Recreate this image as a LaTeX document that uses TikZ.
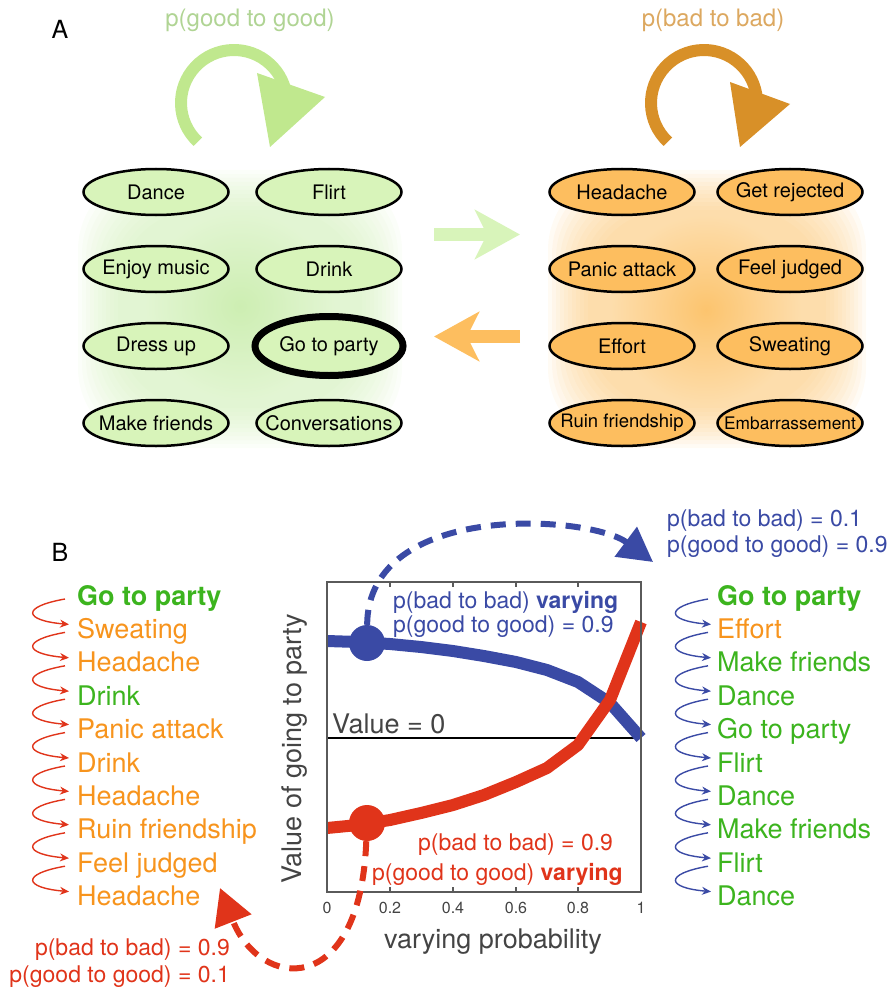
\documentclass[tikz,border=0pt]{standalone}
\usepackage{fontspec}
\setmainfont{TeX Gyre Heros}
\usetikzlibrary{arrows.meta, shapes.geometric, positioning, fadings}

\definecolor{glowgreen}{RGB}{205,238,178}
\definecolor{gloworange}{RGB}{252,196,110}
\definecolor{fillgreen}{RGB}{216,244,186}
\definecolor{fillorange}{RGB}{253,190,95}
\definecolor{loopgreen}{RGB}{192,232,142}
\definecolor{looporange}{RGB}{216,144,40}
\definecolor{labelgreen}{RGB}{176,212,148}
\definecolor{labelorange}{RGB}{220,168,96}
\definecolor{listgreen}{RGB}{60,180,30}
\definecolor{listorange}{RGB}{247,148,29}
\definecolor{redc}{RGB}{224,52,26}
\definecolor{bluec}{RGB}{58,74,165}
\definecolor{axisgray}{RGB}{90,90,90}
\definecolor{textgray}{RGB}{68,68,68}

\tikzfading[name=softspot,inner color=transparent!0,outer color=transparent!100]

\newcommand{\fsz}[1]{\fontsize{#1}{#1}\selectfont}

\begin{document}
\begin{tikzpicture}[x=1pt,y=1pt,node distance=77pt,
  state/.style={ellipse,draw,line width=2.5pt,minimum width=145pt,minimum height=46pt,inner sep=0pt,font=\fsz{20},
    execute at begin node={\hbox to 0pt\bgroup\hss},execute at end node={\hss\egroup}},
  good node/.style={state,fill=fillgreen},
  bad node/.style={state,fill=fillorange},
  glow/.style={fill opacity=0.075,rounded corners=80pt},
  item/.style={anchor=base west,inner sep=0pt,font=\fsz{27}},
  good item/.style={item,text=listgreen},
  bad item/.style={item,text=listorange},
  hop/.style={line width=1.4pt,-{Stealth[length=9pt,width=8pt]},out=190,in=175,looseness=4.5},
  prob/.style={inner sep=0pt,font=\fsz{23}}]

  \useasboundingbox (0,0) rectangle (891,-987);

  % panel A
  \node[font=\fsz{25}] (labA) at (60,-29) {A};
  \node[text=labelgreen,font=\fsz{24}] (pgg) at (250,-20) {p(good to good)};
  \node[text=labelorange,font=\fsz{24}] (pbb) at (713,-20) {p(bad to bad)};

  \draw[loopgreen,line width=12pt] (234,-103) ++(227:53) arc[start angle=227,end angle=5,radius=53];
  \fill[loopgreen] (257,-73) -- (325,-97) -- (270,-147) -- cycle;
  \draw[looporange,line width=12pt] (704,-103) ++(227:53) arc[start angle=227,end angle=5,radius=53];
  \fill[looporange] (730,-82) -- (790,-104) -- (740,-147) -- cycle;

  \foreach \d in {0,4,...,40} {
    \fill[glowgreen,glow] (78+\d,-170-\d) rectangle (402-\d,-448+\d);
    \fill[gloworange,glow] (548+\d,-170-\d) rectangle (866-\d,-448+\d);
  }
  \fill[glowgreen,path fading=softspot] (240,-306) circle (95);
  \fill[gloworange,path fading=softspot] (706,-310) circle (95);

  \node[good node] (dance) at (156,-192) {Dance};
  \node[good node] (enjoy) [below of=dance] {Enjoy music};
  \node[good node] (dress) [below of=enjoy] {Dress up};
  \node[good node] (friends) [below of=dress] {Make friends};
  \node[good node] (flirt) at (329,-192) {Flirt};
  \node[good node] (drink) [below of=flirt] {Drink};
  \node[good node,line width=7pt,minimum width=148pt,minimum height=59pt] (party) [below of=drink] {Go to party};
  \node[good node] (talk) [below of=party] {Conversations};

  \node[bad node] (headache) at (622,-192) {Headache};
  \node[bad node] (panic) [below of=headache] {Panic attack};
  \node[bad node] (effort) [below of=panic] {Effort};
  \node[bad node,font=\fsz{18.5}] (ruin) [below of=effort] {Ruin friendship};
  \node[bad node] (rejected) at (790,-192) {Get rejected};
  \node[bad node] (judged) [below of=rejected] {Feel judged};
  \node[bad node] (sweat) [below of=judged] {Sweating};
  \node[bad node,font=\fsz{17.3}] (embarr) [below of=sweat] {Embarrassement};

  \coordinate (gofrom) at (434,-234.5);
  \coordinate (goto) at (520,-234.5);
  \coordinate (backfrom) at (520,-336.5);
  \coordinate (backto) at (434,-336.5);
  \draw[fillgreen,line width=13pt,-{Stealth[length=45pt,width=49pt,inset=12pt]}] (gofrom) -- (goto);
  \draw[fillorange,line width=13pt,-{Stealth[length=45pt,width=49pt,inset=12pt]}] (backfrom) -- (backto);

  % panel B
  \node[font=\fsz{25}] (labB) at (60,-552) {B};

  \node[good item,font=\fsz{27}\bfseries] (l1) at (77,-605) {Go to party};
  \node[bad item] (l2) [below=33.4pt of l1.base west,anchor=base west] {Sweating};
  \node[bad item] (l3) [below=33.4pt of l2.base west,anchor=base west] {Headache};
  \node[good item] (l4) [below=33.4pt of l3.base west,anchor=base west] {Drink};
  \node[bad item] (l5) [below=33.4pt of l4.base west,anchor=base west] {Panic attack};
  \node[bad item] (l6) [below=33.4pt of l5.base west,anchor=base west] {Drink};
  \node[bad item] (l7) [below=33.4pt of l6.base west,anchor=base west] {Headache};
  \node[bad item] (l8) [below=33.4pt of l7.base west,anchor=base west] {Ruin friendship};
  \node[bad item] (l9) [below=33.4pt of l8.base west,anchor=base west] {Feel judged};
  \node[bad item] (l10) [below=33.4pt of l9.base west,anchor=base west] {Headache};

  \node[good item,font=\fsz{27}\bfseries] (r1) at (717,-605) {Go to party};
  \node[bad item] (r2) [below=33.4pt of r1.base west,anchor=base west] {Effort};
  \node[good item] (r3) [below=33.4pt of r2.base west,anchor=base west] {Make friends};
  \node[good item] (r4) [below=33.4pt of r3.base west,anchor=base west] {Dance};
  \node[good item] (r5) [below=33.4pt of r4.base west,anchor=base west] {Go to party};
  \node[good item] (r6) [below=33.4pt of r5.base west,anchor=base west] {Flirt};
  \node[good item] (r7) [below=33.4pt of r6.base west,anchor=base west] {Dance};
  \node[good item] (r8) [below=33.4pt of r7.base west,anchor=base west] {Make friends};
  \node[good item] (r9) [below=33.4pt of r8.base west,anchor=base west] {Flirt};
  \node[good item] (r10) [below=33.4pt of r9.base west,anchor=base west] {Dance};

  \path[hop,redc]
    ([shift={(-12,6)}]l1.base west) edge ([shift={(-8,14)}]l2.base west)
    ([shift={(-12,6)}]l2.base west) edge ([shift={(-8,14)}]l3.base west)
    ([shift={(-12,6)}]l3.base west) edge ([shift={(-8,14)}]l4.base west)
    ([shift={(-12,6)}]l4.base west) edge ([shift={(-8,14)}]l5.base west)
    ([shift={(-12,6)}]l5.base west) edge ([shift={(-8,14)}]l6.base west)
    ([shift={(-12,6)}]l6.base west) edge ([shift={(-8,14)}]l7.base west)
    ([shift={(-12,6)}]l7.base west) edge ([shift={(-8,14)}]l8.base west)
    ([shift={(-12,6)}]l8.base west) edge ([shift={(-8,14)}]l9.base west)
    ([shift={(-12,6)}]l9.base west) edge ([shift={(-8,14)}]l10.base west);
  \path[hop,bluec]
    ([shift={(-9,6)}]r1.base west) edge ([shift={(-6,14)}]r2.base west)
    ([shift={(-9,6)}]r2.base west) edge ([shift={(-6,14)}]r3.base west)
    ([shift={(-9,6)}]r3.base west) edge ([shift={(-6,14)}]r4.base west)
    ([shift={(-9,6)}]r4.base west) edge ([shift={(-6,14)}]r5.base west)
    ([shift={(-9,6)}]r5.base west) edge ([shift={(-6,14)}]r6.base west)
    ([shift={(-9,6)}]r6.base west) edge ([shift={(-6,14)}]r7.base west)
    ([shift={(-9,6)}]r7.base west) edge ([shift={(-6,14)}]r8.base west)
    ([shift={(-9,6)}]r8.base west) edge ([shift={(-6,14)}]r9.base west)
    ([shift={(-9,6)}]r9.base west) edge ([shift={(-6,14)}]r10.base west);

  % plot
  \draw[black,line width=1.3pt] (327,-738) -- (641,-738);
  \node[anchor=base west,inner sep=0pt,text=textgray,font=\fsz{27}] (zero) at (332,-733) {Value = 0};
  \draw[bluec,line width=12pt,line join=round] plot coordinates {(327,-641) (358,-642) (390,-644) (421,-647) (453,-651) (484,-656) (516,-662) (547,-670) (578,-682) (610,-703) (641,-738)};
  \draw[redc,line width=12pt,line join=round] plot coordinates {(327,-828) (358,-825) (390,-820) (421,-813) (453,-805) (484,-795) (516,-782) (547,-768) (578,-745) (610,-700) (641,-622)};
  \draw[axisgray,line width=1.2pt] (327,-582) rectangle (641,-892);
  \draw[axisgray,line width=1.2pt] (390,-892) -- (390,-887) (453,-892) -- (453,-887) (516,-892) -- (516,-887) (578,-892) -- (578,-887)
    (390,-582) -- (390,-587) (453,-582) -- (453,-587) (516,-582) -- (516,-587) (578,-582) -- (578,-587);
  \node[text=textgray,font=\fsz{16}] (t0) at (327,-908) {0};
  \node[text=textgray,font=\fsz{16}] (t2) at (390,-908) {0.2};
  \node[text=textgray,font=\fsz{16}] (t4) at (453,-908) {0.4};
  \node[text=textgray,font=\fsz{16}] (t6) at (516,-908) {0.6};
  \node[text=textgray,font=\fsz{16}] (t8) at (578,-908) {0.8};
  \node[text=textgray,font=\fsz{16}] (t10) at (641,-908) {1};
  \node[anchor=base,text=textgray,font=\fsz{27}] (xlab) at (493,-948) {varying probability};
  \node[rotate=90,text=textgray,font=\fsz{27}] (ylab) at (295,-749) {Value of going to party};

  \node[circle,fill=bluec,minimum size=36pt,inner sep=0pt] (bdot) at (367,-643) {};
  \node[circle,fill=redc,minimum size=36pt,inner sep=0pt] (rdot) at (367,-823) {};

  \node[prob,anchor=base west,text=bluec] (bvar1) at (393,-608) {p(bad to bad) \textbf{varying}};
  \node[prob,anchor=base west,text=bluec] (bvar2) at (393,-632) {p(good to good) = 0.9};
  \node[prob,anchor=base west,text=redc] (rvar1) at (418,-850) {p(bad to bad) = 0.9};
  \node[prob,anchor=base west,text=redc] (rvar2) at (372,-880) {p(good to good) \textbf{varying}};
  \node[prob,anchor=base west,text=bluec] (bset1) at (667,-526) {p(bad to bad) = 0.1};
  \node[prob,anchor=base west,text=bluec] (bset2) at (667,-552) {p(good to good) = 0.9};
  \node[prob,anchor=base east,text=redc] (rset1) at (230,-955) {p(bad to bad) = 0.9};
  \node[prob,anchor=base east,text=redc] (rset2) at (230,-982) {p(good to good) = 0.1};

  \coordinate (btip) at (653,-562);
  \coordinate (rtip) at (220,-888);
  \draw[bluec,line width=6pt,dash pattern=on 15pt off 10pt,-{Triangle[length=34pt,width=36pt]}] (bdot) .. controls (368,-500) and (590,-515) .. (btip);
  \draw[redc,line width=6pt,dash pattern=on 15pt off 10pt,-{Triangle[length=36pt,width=38pt]}] (rdot) .. controls (360,-1000) and (260,-990) .. (rtip);
\end{tikzpicture}
\end{document}
